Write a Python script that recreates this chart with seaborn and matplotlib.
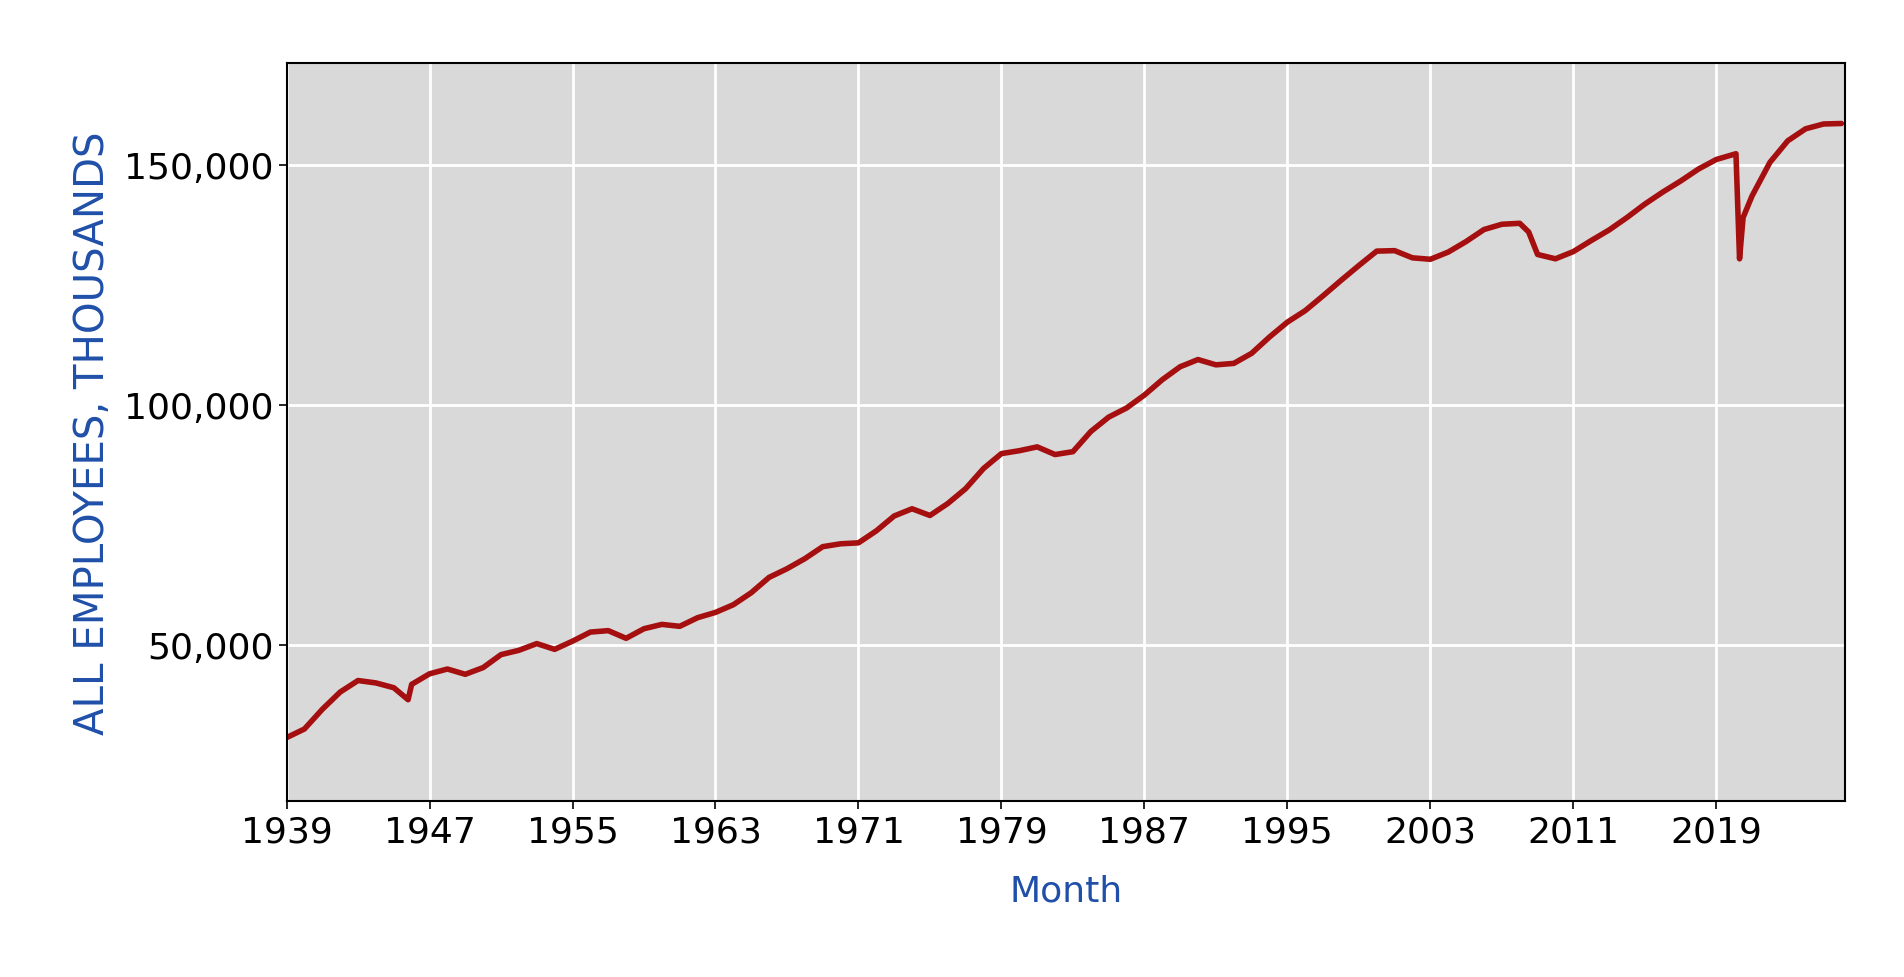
import matplotlib
matplotlib.use("Agg")
import matplotlib.pyplot as plt
import seaborn as sns
import pandas as pd
from matplotlib.ticker import FuncFormatter

years = [1939, 1940, 1941, 1942, 1943, 1944, 1945, 1945.8, 1946, 1947, 1948, 1949, 1950, 1951, 1952,
         1953, 1954, 1955, 1956, 1957, 1958, 1959, 1960, 1961, 1962, 1963, 1964, 1965, 1966,
         1967, 1968, 1969, 1970, 1971, 1972, 1973, 1974, 1975, 1976, 1977, 1978, 1979, 1980,
         1981, 1982, 1983, 1984, 1985, 1986, 1987, 1988, 1989, 1990, 1991, 1992, 1993, 1994,
         1995, 1996, 1997, 1998, 1999, 2000, 2001, 2002, 2003, 2004, 2005, 2006, 2007, 2008,
         2008.5, 2009, 2010, 2011, 2012, 2013, 2014, 2015, 2016, 2017, 2018, 2019, 2020.1,
         2020.3, 2020.5, 2021, 2022, 2023, 2024, 2025, 2026]
employees = [30.6, 32.4, 36.5, 40.1, 42.5, 42.0, 41.0, 38.5, 41.7, 43.9, 44.9, 43.8, 45.2, 47.9,
             48.8, 50.2, 49.0, 50.7, 52.6, 52.9, 51.3, 53.3, 54.2, 53.8, 55.6, 56.7, 58.3, 60.8,
             64.0, 65.8, 67.9, 70.4, 71.0, 71.2, 73.7, 76.8, 78.3, 76.9, 79.4, 82.5, 86.7, 89.8,
             90.4, 91.2, 89.6, 90.2, 94.4, 97.4, 99.3, 102.0, 105.2, 107.9, 109.4, 108.3, 108.6,
             110.7, 114.1, 117.2, 119.6, 122.7, 125.9, 129.0, 132.0, 132.1, 130.6, 130.3, 131.8,
             134.0, 136.5, 137.6, 137.8, 136.0, 131.3, 130.4, 131.9, 134.2, 136.4, 139.0, 141.8,
             144.3, 146.6, 149.1, 151.1, 152.3, 130.4, 139.0, 143.5, 150.5, 155.0, 157.5, 158.5, 158.6]
employees = [v * 1000 for v in employees]
xticks = list(range(1939, 2020, 8))
yticks = [50000, 100000, 150000]

df = pd.DataFrame({"Month": years, "Employees": employees})

sns.set_theme(style="darkgrid")
fig = plt.figure(figsize=(19.04, 9.78), dpi=100)
ax = fig.add_axes([0.1505, 0.18, 0.8185, 0.755])
ax.set_facecolor("#d9d9d9")
sns.lineplot(data=df, x="Month", y="Employees", ax=ax, color="#a50f0f", linewidth=4)
ax.set_xlim(1939, 2026.2)
ax.set_ylim(17400, 171300)
ax.set_xticks(xticks)
ax.set_yticks(yticks)
ax.yaxis.set_major_formatter(FuncFormatter(lambda v, p: f"{int(v):,}"))
ax.grid(True, color="white", linewidth=2)
for s in ax.spines.values():
    s.set_visible(True)
    s.set_color("black")
    s.set_linewidth(1.5)
ax.tick_params(axis="both", labelsize=26, colors="black", length=6, width=1.2, direction="out",
               bottom=True, left=True)
ax.set_xlabel("Month", fontsize=26, color="#1f4fa8", labelpad=18)
ax.set_ylabel("ALL EMPLOYEES, THOUSANDS", fontsize=29, color="#1f4fa8", labelpad=8)
fig.savefig("out.png", dpi=100, facecolor="white")
